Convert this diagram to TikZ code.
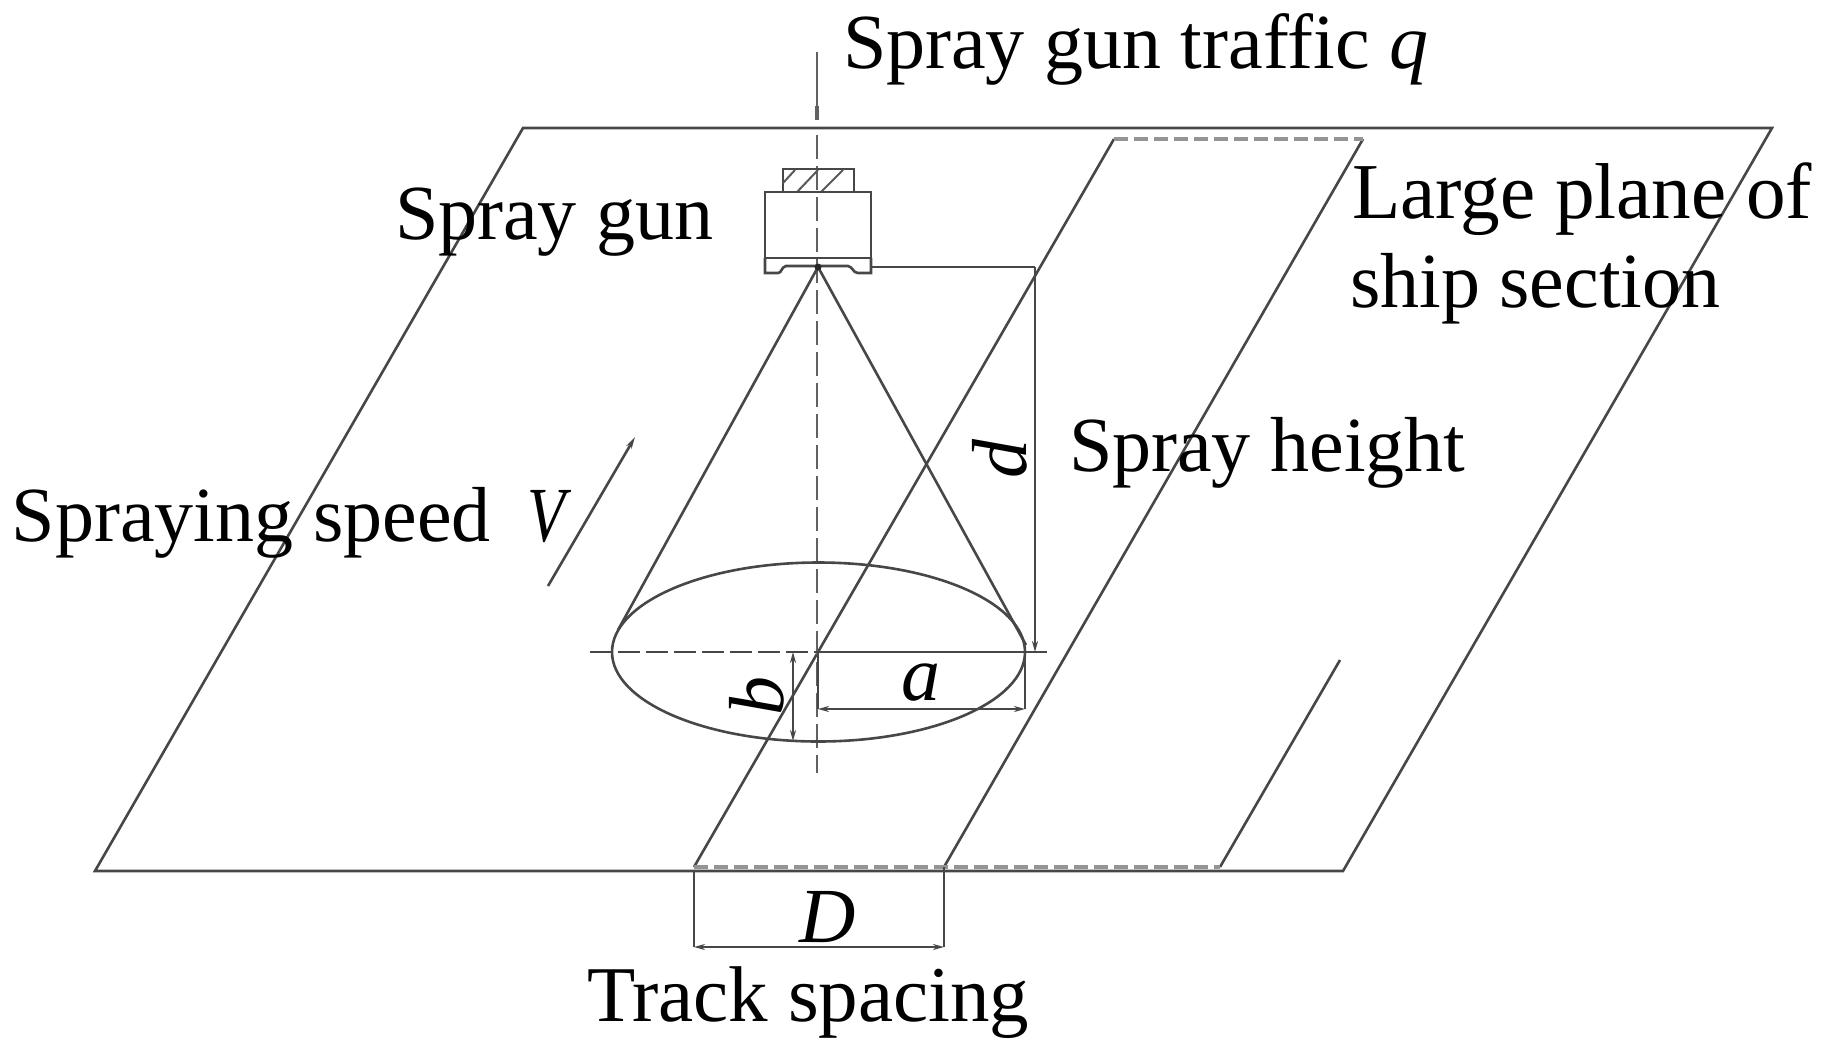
\documentclass[tikz,border=0pt]{standalone}
\usepackage{fontspec}
\setmainfont{Liberation Serif}
\usetikzlibrary{arrows.meta}
\tikzset{
  ln/.style={draw=black!72,line width=2.6pt},
  thin ln/.style={draw=black!65,line width=2pt},
  gdash/.style={draw=black!42,line width=3.6pt,dash pattern=on 14pt off 6pt},
  axisl/.style={draw=black!62,line width=2.6pt,dash pattern=on 24pt off 7pt},
  dim/.style={draw=black!72,line width=2.6pt,{Stealth[length=11pt,width=6pt]}-{Stealth[length=11pt,width=6pt]}},
  lab/.style={inner sep=0pt,outer sep=0pt,anchor=base west,font=\fontsize{78}{90}\selectfont,text=black},
  ilab/.style={lab,font=\fontsize{78}{90}\selectfont\itshape},
}
\begin{document}
\begin{tikzpicture}[x=1pt,y=-1pt]
\useasboundingbox (0,0) rectangle (1828,1053);
% coordinates
\coordinate (pa) at (523,128);
\coordinate (pb) at (1772,128);
\coordinate (pc) at (1343,871);
\coordinate (pd) at (95,871);
\coordinate (sa) at (1114,139);
\coordinate (sb) at (1363,139);
\coordinate (sc) at (944,867);
\coordinate (sd) at (694,867);
\coordinate (te) at (1220,867);
\coordinate (tf) at (1340,660);
\coordinate (apex) at (818,267);
\coordinate (ec) at (818.5,652);
% plate
\draw[ln,line join=miter] (pa)--(pb)--(pc)--(pd)--cycle;
% strip
\draw[ln] (sd)--(sa);
\draw[ln] (sc)--(sb);
\draw[ln] (te)--(tf);
\draw[gdash] (sa)--(sb);
\draw[gdash] (sd)--(te);
% axis
\draw[draw=black!62,line width=2.6pt] (817,52)--(817,120);
\draw[draw=black!62,line width=4.5pt] (817,106)--(817,120);
\draw[axisl] (817,135)--(817,773);
% gun
\draw[ln] (783,192) rectangle (854,169);
\draw[thin ln] (783,183)--(795,170);
\draw[thin ln] (797,192)--(818,170);
\draw[thin ln] (821,192)--(843,170);
\draw[ln] (765,192) rectangle (871,258);
\draw[ln] (765,258)--(765,273)--(778,273) .. controls (782,273) and (781,267) .. (786,266)--(848,266) .. controls (853,267) and (853,273) .. (858,273)--(871,273)--(871,258);
\draw[ln] (871,267)--(1035,267);
% cone
\draw[ln] (apex)--(618,630);
\draw[ln] (apex)--(1026,645);
\fill[black!85] (apex) circle (3.5pt);
\draw[ln] (ec) ellipse [x radius=206.5pt,y radius=89.5pt];
% centre line
\draw[draw=black!72,line width=2.6pt,dash pattern=on 22pt off 6pt] (590,652)--(818,652);
\draw[ln] (818,652)--(1047,652);
% dimensions
\draw[ln,-{Stealth[length=11pt,width=6pt]}] (1035,267)--(1035,652);
\draw[dim] (818,709)--(1025,709);
\draw[ln] (1025,652)--(1025,709);
\draw[ln] (818,652)--(818,709);
\draw[dim] (793,652)--(793,741);
\draw[ln] (793,741)--(818,741);
\draw[ln] (694,871)--(694,947);
\draw[ln] (944,867)--(944,947);
\draw[dim] (694,947)--(944,947);
% speed mark
\draw[ln,-{Stealth[length=12pt,width=6pt]}] (548,586)--(635,437);
% labels
\node[lab] (lq) at (843,68) {Spray gun traffic \textit{q}};
\node[lab] (lg) at (395,239) {Spray gun};
\node[lab,font=\fontsize{79.2}{90}\selectfont] (lp1) at (1352,218) {Large plane of};
\node[lab] (lp2) at (1350,307) {ship section};
\node[lab] (lh) at (1069,471) {Spray height};
\node[lab] (ls) at (12,541) {Spraying speed};
\node[ilab,xscale=0.8] (lv) at (527,541) {V};
\node[lab,font=\fontsize{79}{90}\selectfont] (lt) at (587,1021) {Track spacing};
\node[ilab] (ld) at (799,942) {D};
\node[ilab] (la) at (901,700) {a};
\node[ilab,anchor=center,rotate=90] (lb) at (757,696) {b};
\node[ilab,anchor=center,rotate=90] (ldd) at (1000,459) {d};
\end{tikzpicture}
\end{document}
